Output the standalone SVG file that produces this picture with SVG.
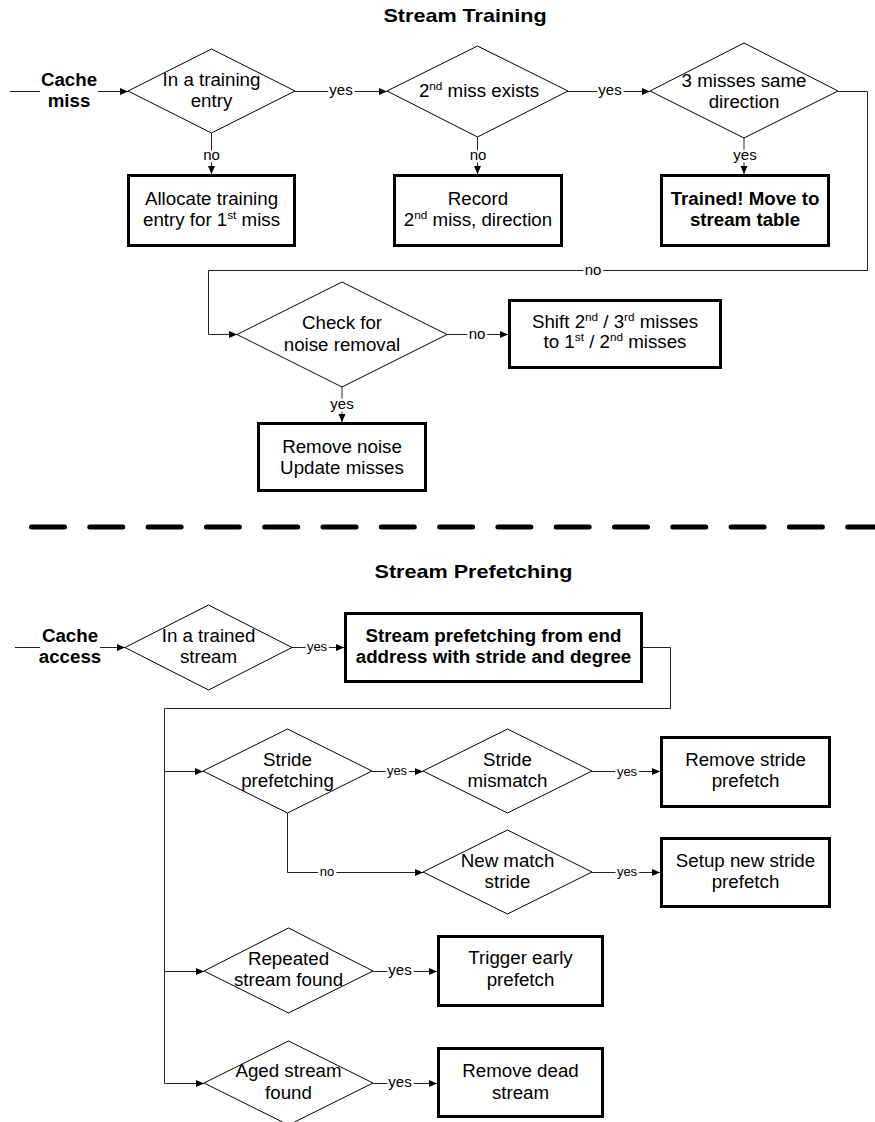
<svg xmlns="http://www.w3.org/2000/svg" width="875" height="1122" viewBox="0 0 875 1122">
<defs>
<style>
.t{font-family:"Liberation Sans",Arial,sans-serif;font-size:17.5px;text-anchor:middle;fill:#000}
.b{font-weight:bold}
.ttl{font-family:"Liberation Sans",Arial,sans-serif;font-size:18px;font-weight:bold;text-anchor:middle;fill:#000}
.lbl{font-family:"Liberation Sans",Arial,sans-serif;font-size:15px;text-anchor:middle;fill:#000;paint-order:stroke;stroke:#fff;stroke-width:5px;stroke-linejoin:round}
.sm{font-size:13px}
.dia{fill:#fff;stroke:#000;stroke-width:1}
.box{fill:#fff;stroke:#000;stroke-width:3}
.ln{fill:none;stroke:#222;stroke-width:1}
.arr{fill:none;stroke:#222;stroke-width:1;marker-end:url(#ah)}
</style>
<marker id="ah" markerUnits="userSpaceOnUse" markerWidth="9" markerHeight="8" refX="8" refY="3.5" orient="auto">
<path d="M0,0 L8,3.5 L0,7 z" fill="#000"/>
</marker>
</defs>
<rect width="875" height="1122" fill="#fff"/>

<text class="ttl" transform="translate(465,22) scale(1.2,1)">Stream Training</text>

<g id="connectors">
<path class="ln" d="M10,91.5 H40"/>
<path class="arr" d="M98,91.5 H128"/>
<path class="arr" d="M211.5,133 V174"/>
<path class="arr" d="M295,91.5 H387"/>
<path class="arr" d="M477.5,137 V174"/>
<path class="arr" d="M568,91.5 H650"/>
<path class="arr" d="M744,138 V174"/>
<path class="arr" d="M838,91.5 H867.5 V270.5 H208.5 V334.5 H237"/>
<path class="arr" d="M447,334.5 H508"/>
<path class="arr" d="M342,387 V422"/>

<path class="ln" d="M15,647.5 H40"/>
<path class="arr" d="M100,647.5 H125"/>
<path class="arr" d="M292,647.5 H344"/>
<path class="arr" d="M643,647.5 H670.5 V708.5 H164.5 V1083.5 H204"/>
<path class="arr" d="M164.5,771.5 H203"/>
<path class="arr" d="M164.5,971.5 H204"/>
<path class="arr" d="M372,771.5 H423"/>
<path class="arr" d="M592,771.5 H660"/>
<path class="arr" d="M287.5,813 V872.5 H423"/>
<path class="arr" d="M592,872.5 H660"/>
<path class="arr" d="M373,971.5 H437"/>
<path class="arr" d="M373,1083.5 H437"/>

<text class="lbl" x="211.5" y="160">no</text>
<text class="lbl" x="341" y="95">yes</text>
<text class="lbl" x="478" y="160">no</text>
<text class="lbl" x="610" y="95">yes</text>
<text class="lbl" x="745" y="160">yes</text>
<text class="lbl" x="593" y="275">no</text>
<text class="lbl" x="477" y="339">no</text>
<text class="lbl" x="342" y="409">yes</text>
<text class="lbl sm" x="317" y="651">yes</text>
<text class="lbl sm" x="397" y="775">yes</text>
<text class="lbl sm" x="627" y="776">yes</text>
<text class="lbl sm" x="327" y="876">no</text>
<text class="lbl sm" x="627" y="876">yes</text>
<text class="lbl" x="400" y="975">yes</text>
<text class="lbl" x="400" y="1087">yes</text>
</g>

<g id="cache-miss">
<text class="t b" transform="translate(69,86) scale(1.07,1)">Cache</text>
<text class="t b" transform="translate(69,107) scale(1.07,1)">miss</text>
</g>

<g id="d-training-entry">
<polygon class="dia" points="128,91 211.5,49 295,91 211.5,133"/>
<text class="t" transform="translate(211.5,86) scale(1.07,1)">In a training</text>
<text class="t" transform="translate(211.5,107) scale(1.07,1)">entry</text>
</g>

<g id="b-allocate">
<rect class="box" x="128.5" y="175.5" width="166" height="70"/>
<text class="t" transform="translate(211.5,205) scale(1.07,1)">Allocate training</text>
<text class="t" transform="translate(211.5,226) scale(1.07,1)">entry for 1<tspan font-size="11" dy="-7">st</tspan><tspan dy="7"> miss</tspan></text>
</g>

<g id="d-second-miss">
<polygon class="dia" points="387,91 477.5,46 568,91 477.5,137"/>
<text class="t" transform="translate(479,97) scale(1.07,1)">2<tspan font-size="11" dy="-7">nd</tspan><tspan dy="7"> miss exists</tspan></text>
</g>

<g id="b-record">
<rect class="box" x="394.5" y="175.5" width="167" height="70"/>
<text class="t" transform="translate(478,205) scale(1.07,1)">Record</text>
<text class="t" transform="translate(478,226) scale(1.07,1)">2<tspan font-size="11" dy="-7">nd</tspan><tspan dy="7"> miss, direction</tspan></text>
</g>

<g id="d-three-misses">
<polygon class="dia" points="650,91 744,43 838,91 744,138"/>
<text class="t" transform="translate(744,87) scale(1.07,1)">3 misses same</text>
<text class="t" transform="translate(744,108) scale(1.07,1)">direction</text>
</g>

<g id="b-trained">
<rect class="box" x="661.5" y="175.5" width="167" height="70"/>
<text class="t b" transform="translate(745,205) scale(1.07,1)">Trained! Move to</text>
<text class="t b" transform="translate(745,226) scale(1.07,1)">stream table</text>
</g>

<g id="d-noise">
<polygon class="dia" points="237,334.5 342,282 447,334.5 342,387"/>
<text class="t" transform="translate(342,329) scale(1.07,1)">Check for</text>
<text class="t" transform="translate(342,351) scale(1.07,1)">noise removal</text>
</g>

<g id="b-shift">
<rect class="box" x="509.5" y="300.5" width="211" height="67"/>
<text class="t" transform="translate(615,328) scale(1.07,1)">Shift 2<tspan font-size="11" dy="-7">nd</tspan><tspan dy="7"> / 3</tspan><tspan font-size="11" dy="-7">rd</tspan><tspan dy="7"> misses</tspan></text>
<text class="t" transform="translate(615,348) scale(1.07,1)">to 1<tspan font-size="11" dy="-7">st</tspan><tspan dy="7"> / 2</tspan><tspan font-size="11" dy="-7">nd</tspan><tspan dy="7"> misses</tspan></text>
</g>

<g id="b-remove-noise">
<rect class="box" x="258.5" y="423.5" width="167" height="67"/>
<text class="t" transform="translate(342,453) scale(1.07,1)">Remove noise</text>
<text class="t" transform="translate(342,474) scale(1.07,1)">Update misses</text>
</g>

<line id="divider" x1="31.5" y1="527" x2="880" y2="527" stroke="#000" stroke-width="5" stroke-linecap="round" stroke-dasharray="33 25.3"/>

<text class="ttl" transform="translate(473.5,578) scale(1.2,1)">Stream Prefetching</text>

<g id="cache-access">
<text class="t b" transform="translate(70,642) scale(1.07,1)">Cache</text>
<text class="t b" transform="translate(70,663) scale(1.07,1)">access</text>
</g>

<g id="d-trained-stream">
<polygon class="dia" points="125,647.5 208.5,605 292,647.5 208.5,690"/>
<text class="t" transform="translate(208.5,642) scale(1.07,1)">In a trained</text>
<text class="t" transform="translate(208.5,663) scale(1.07,1)">stream</text>
</g>

<g id="b-stream-prefetch">
<rect class="box" x="345.5" y="613.5" width="296" height="68"/>
<text class="t b" transform="translate(493.5,642) scale(1.07,1)">Stream prefetching from end</text>
<text class="t b" transform="translate(493.5,663) scale(1.07,1)">address with stride and degree</text>
</g>

<g id="d-stride-prefetching">
<polygon class="dia" points="203,771 287.5,729 372,771 287.5,813"/>
<text class="t" transform="translate(287.5,766) scale(1.07,1)">Stride</text>
<text class="t" transform="translate(287.5,787) scale(1.07,1)">prefetching</text>
</g>

<g id="d-stride-mismatch">
<polygon class="dia" points="423,771 507.5,729 592,771 507.5,813"/>
<text class="t" transform="translate(507.5,766) scale(1.07,1)">Stride</text>
<text class="t" transform="translate(507.5,787) scale(1.07,1)">mismatch</text>
</g>

<g id="b-remove-stride">
<rect class="box" x="661.5" y="737.5" width="168" height="69"/>
<text class="t" transform="translate(745.5,766) scale(1.07,1)">Remove stride</text>
<text class="t" transform="translate(745.5,787) scale(1.07,1)">prefetch</text>
</g>

<g id="d-new-match">
<polygon class="dia" points="423,872 507.5,830 592,872 507.5,914"/>
<text class="t" transform="translate(507.5,867) scale(1.07,1)">New match</text>
<text class="t" transform="translate(507.5,888) scale(1.07,1)">stride</text>
</g>

<g id="b-setup-stride">
<rect class="box" x="661.5" y="838.5" width="168" height="68"/>
<text class="t" transform="translate(745.5,867) scale(1.07,1)">Setup new stride</text>
<text class="t" transform="translate(745.5,888) scale(1.07,1)">prefetch</text>
</g>

<g id="d-repeated">
<polygon class="dia" points="204,971 288.5,928 373,971 288.5,1013"/>
<text class="t" transform="translate(288.5,965) scale(1.07,1)">Repeated</text>
<text class="t" transform="translate(288.5,986) scale(1.07,1)">stream found</text>
</g>

<g id="b-trigger">
<rect class="box" x="438.5" y="936.5" width="164" height="69"/>
<text class="t" transform="translate(520.5,964) scale(1.07,1)">Trigger early</text>
<text class="t" transform="translate(520.5,986) scale(1.07,1)">prefetch</text>
</g>

<g id="d-aged">
<polygon class="dia" points="204,1083 288.5,1041 373,1083 288.5,1125"/>
<text class="t" transform="translate(288.5,1077) scale(1.07,1)">Aged stream</text>
<text class="t" transform="translate(288.5,1099) scale(1.07,1)">found</text>
</g>

<g id="b-remove-dead">
<rect class="box" x="438.5" y="1048.5" width="164" height="68"/>
<text class="t" transform="translate(520.5,1077) scale(1.07,1)">Remove dead</text>
<text class="t" transform="translate(520.5,1099) scale(1.07,1)">stream</text>
</g>
</svg>
